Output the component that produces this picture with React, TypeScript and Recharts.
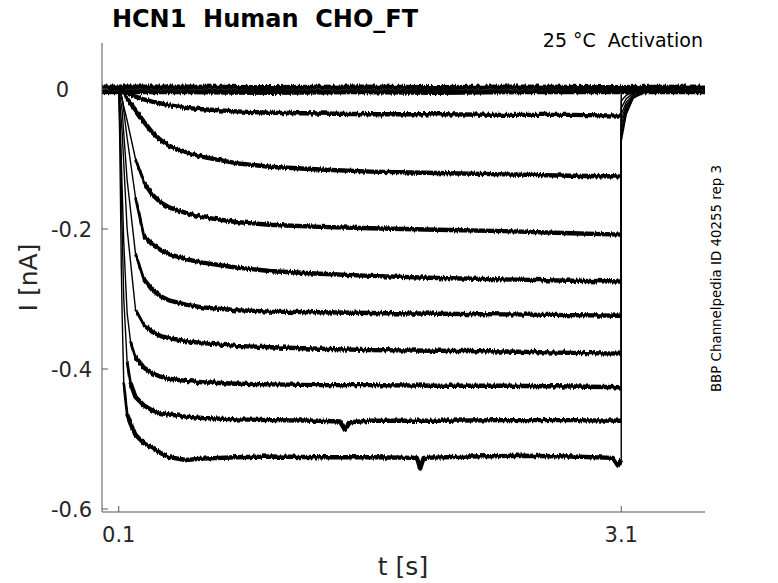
import React from 'react';
import { LineChart, Line, XAxis, YAxis } from 'recharts';

type Pt = [number, number];

// axis ticks
const X_TICKS = [0.1, 3.1];
const X_TICK_LABELS = ['0.1', '3.1'];
const Y_TICKS = [-0.6, -0.4, -0.2, 0];
const Y_TICK_LABELS = ['-0.6', '-0.4', '-0.2', '0'];

// current traces, [t (s), I (nA)]
const traceZeroA: Pt[] = [[0, 0.003], [0.5, 0.003], [1.0, 0.002], [1.5, 0.003], [2.0, 0.002], [2.5, 0.003], [3.0, 0.002], [3.6, 0.003]];
const traceZeroB: Pt[] = [[0, -0.004], [0.5, -0.004], [1.0, -0.005], [1.5, -0.004], [2.0, -0.005], [2.5, -0.004], [3.0, -0.004], [3.6, -0.004]];
const traceB: Pt[] = [[0, 0], [0.1, 0], [0.15, -0.006], [0.2, -0.011], [0.25, -0.015], [0.3, -0.018], [0.4, -0.023], [0.5, -0.027], [0.6, -0.029], [0.8, -0.032], [1.0, -0.034], [1.3, -0.035], [1.6, -0.036], [2.0, -0.036], [2.4, -0.037], [2.8, -0.037], [3.1, -0.038], [3.1, -0.006], [3.14, -0.002], [3.25, 0], [3.6, 0]];
const traceC: Pt[] = [[0, 0], [0.1, 0], [0.12, -0.003], [0.15, -0.014], [0.2, -0.03], [0.25, -0.047], [0.3, -0.062], [0.35, -0.073], [0.4, -0.081], [0.5, -0.09], [0.6, -0.097], [0.8, -0.106], [1.0, -0.111], [1.3, -0.115], [1.6, -0.118], [2.0, -0.12], [2.4, -0.122], [2.8, -0.124], [3.1, -0.125], [3.1, -0.017], [3.13, -0.009], [3.17, -0.004], [3.25, -0.001], [3.6, 0]];
const traceD: Pt[] = [[0, 0], [0.1, 0], [0.12, -0.015], [0.15, -0.045], [0.2, -0.1], [0.25, -0.133], [0.3, -0.151], [0.35, -0.162], [0.4, -0.169], [0.5, -0.177], [0.6, -0.183], [0.8, -0.19], [1.0, -0.194], [1.3, -0.197], [1.6, -0.199], [2.0, -0.201], [2.4, -0.203], [2.8, -0.206], [3.1, -0.208], [3.1, -0.027], [3.13, -0.014], [3.17, -0.006], [3.25, -0.002], [3.6, 0]];
const traceE: Pt[] = [[0, 0], [0.1, 0], [0.12, -0.012], [0.15, -0.07], [0.2, -0.155], [0.25, -0.21], [0.3, -0.222], [0.35, -0.23], [0.4, -0.236], [0.5, -0.243], [0.6, -0.248], [0.8, -0.255], [1.0, -0.26], [1.3, -0.264], [1.6, -0.267], [2.0, -0.27], [2.4, -0.272], [2.8, -0.274], [3.1, -0.275], [3.1, -0.036], [3.13, -0.019], [3.17, -0.008], [3.25, -0.002], [3.6, 0]];
const traceF: Pt[] = [[0, 0], [0.1, 0], [0.12, -0.03], [0.15, -0.13], [0.2, -0.235], [0.25, -0.272], [0.3, -0.287], [0.35, -0.296], [0.4, -0.302], [0.5, -0.308], [0.6, -0.312], [0.8, -0.316], [1.0, -0.318], [1.3, -0.319], [1.6, -0.32], [2.0, -0.321], [2.4, -0.322], [2.8, -0.323], [3.1, -0.324], [3.1, -0.044], [3.13, -0.023], [3.17, -0.01], [3.25, -0.003], [3.6, 0]];
const traceG: Pt[] = [[0, 0], [0.1, 0], [0.12, -0.06], [0.15, -0.2], [0.2, -0.315], [0.25, -0.337], [0.3, -0.347], [0.35, -0.353], [0.4, -0.356], [0.5, -0.36], [0.6, -0.363], [0.8, -0.367], [1.0, -0.369], [1.3, -0.371], [1.6, -0.373], [2.0, -0.374], [2.4, -0.375], [2.8, -0.377], [3.1, -0.378], [3.1, -0.052], [3.13, -0.026], [3.17, -0.011], [3.25, -0.003], [3.6, 0]];
const traceH: Pt[] = [[0, 0], [0.1, 0], [0.11, -0.06], [0.12, -0.14], [0.13, -0.22], [0.15, -0.32], [0.17, -0.36], [0.2, -0.383], [0.25, -0.398], [0.3, -0.406], [0.35, -0.411], [0.4, -0.414], [0.5, -0.417], [0.6, -0.419], [0.8, -0.421], [1.0, -0.422], [1.3, -0.423], [1.6, -0.423], [2.0, -0.424], [2.4, -0.424], [2.8, -0.425], [3.1, -0.426], [3.1, -0.06], [3.13, -0.03], [3.17, -0.012], [3.25, -0.003], [3.6, 0]];
const traceI: Pt[] = [[0, 0], [0.1, 0], [0.11, -0.08], [0.12, -0.2], [0.13, -0.3], [0.15, -0.39], [0.17, -0.42], [0.2, -0.44], [0.25, -0.452], [0.3, -0.459], [0.35, -0.463], [0.4, -0.465], [0.5, -0.468], [0.6, -0.47], [0.8, -0.472], [1.0, -0.473], [1.3, -0.474], [1.42, -0.475], [1.45, -0.487], [1.48, -0.476], [1.6, -0.474], [2.0, -0.474], [2.4, -0.473], [2.8, -0.473], [3.1, -0.474], [3.1, -0.068], [3.13, -0.033], [3.17, -0.013], [3.25, -0.004], [3.6, 0]];
const traceJ: Pt[] = [[0, 0], [0.1, 0], [0.105, -0.06], [0.11, -0.15], [0.115, -0.25], [0.12, -0.32], [0.13, -0.42], [0.15, -0.465], [0.17, -0.478], [0.2, -0.494], [0.25, -0.506], [0.3, -0.513], [0.35, -0.52], [0.4, -0.526], [0.5, -0.53], [0.6, -0.528], [0.8, -0.526], [1.0, -0.525], [1.3, -0.526], [1.6, -0.526], [1.88, -0.527], [1.9, -0.542], [1.92, -0.527], [2.2, -0.525], [2.5, -0.524], [2.8, -0.525], [3.05, -0.527], [3.08, -0.538], [3.1, -0.53], [3.1, -0.075], [3.13, -0.036], [3.17, -0.014], [3.22, -0.004], [3.3, 0], [3.6, 0]];

const STEP_TRACES: Pt[][] = [traceB, traceC, traceD, traceE, traceF, traceG, traceH, traceI, traceJ];
const ZERO_TRACES: Pt[][] = [traceZeroA, traceZeroB];

// style: time from which each step trace is drawn as a noisy band (medium, then full width)
const MID_START = [0.1, 0.12, 0.17, 0.2, 0.2, 0.18, 0.16, 0.15, 0.13];
const BAND_START = [0.1, 0.15, 0.25, 0.25, 0.25, 0.22, 0.2, 0.17, 0.15];
const STEP_END = 3.1;

const FONT = 'DejaVu Sans';
const TXT = '#262626';
const AXIS = '#555555';

const rows = (pts: Pt[]) => pts.map(([t, i]) => ({ t, i }));

const bandRows = (pts: Pt[], start: number) => {
  const idx = pts.findIndex(([t]) => t >= STEP_END);
  return rows(pts.slice(0, idx + 1).filter(([t]) => t >= start));
};

const findIdx = (arr: number[], v: number) => arr.findIndex((a) => Math.abs(a - v) < 1e-9);

const YTick = (props: any) => {
  const { x, y, payload } = props;
  const v = Number(payload.value);
  const label = Y_TICK_LABELS[findIdx(Y_TICKS, v)];
  const endX = Math.abs(v) < 1e-9 ? x - 33 : x - 10;
  return (
    <g>
      <line x1={x} x2={x + 6} y1={y} y2={y} stroke={AXIS} strokeWidth={1} />
      <text x={endX} y={y} dy="0.36em" textAnchor="end" fontSize={21} fill={TXT} fontFamily={FONT}>
        {label}
      </text>
    </g>
  );
};

const XTick = (props: any) => {
  const { x, y, payload } = props;
  const v = Number(payload.value);
  const label = X_TICK_LABELS[findIdx(X_TICKS, v)];
  return (
    <g>
      <line x1={x} x2={x} y1={y} y2={y - 6} stroke={AXIS} strokeWidth={1} />
      <text x={x} y={y + 30} textAnchor="middle" fontSize={21} fill={TXT} fontFamily={FONT}>
        {label}
      </text>
    </g>
  );
};

const lineBase = {
  dataKey: 'i',
  type: 'linear' as const,
  stroke: '#000',
  dot: false,
  activeDot: false,
  isAnimationActive: false,
};

export default function App() {
  return (
    <div style={{ position: 'absolute', left: 0, top: 0, width: 778, height: 583, background: '#fff' }}>
      <svg width={0} height={0} style={{ position: 'absolute' }}>
        <defs>
          <filter id="jitter" filterUnits="userSpaceOnUse" x={0} y={0} width={778} height={583}>
            <feTurbulence type="fractalNoise" baseFrequency="0.7 0.03" numOctaves={1} seed={3} result="turb" />
            <feColorMatrix
              in="turb"
              type="matrix"
              values="0 0 0 0 0.5  0 1 0 0 0  0 0 0 0 0  0 0 0 0 1"
              result="map"
            />
            <feDisplacementMap in="SourceGraphic" in2="map" scale={5} xChannelSelector="R" yChannelSelector="G" />
          </filter>
        </defs>
      </svg>
      <LineChart width={778} height={583} margin={{ top: 43, right: 73, bottom: 31, left: 42 }}>
        <XAxis
          type="number"
          dataKey="t"
          domain={[0, 3.6]}
          ticks={X_TICKS}
          allowDataOverflow
          height={40}
          tickSize={0}
          tickMargin={0}
          tickLine={false}
          axisLine={{ stroke: AXIS, strokeWidth: 1 }}
          tick={<XTick />}
          interval={0}
        />
        <YAxis
          type="number"
          domain={[-0.6043, 0.0657]}
          ticks={Y_TICKS}
          allowDataOverflow
          width={60}
          tickSize={0}
          tickMargin={0}
          tickLine={false}
          axisLine={{ stroke: AXIS, strokeWidth: 1 }}
          tick={<YTick />}
          interval={0}
        />
        {STEP_TRACES.map((pts, k) => (
          <Line key={'thin' + k} {...lineBase} data={rows(pts)} strokeWidth={1.4} />
        ))}
        {STEP_TRACES.map((pts, k) => (
          <Line
            key={'mid' + k}
            {...lineBase}
            data={bandRows(pts, MID_START[k])}
            strokeWidth={2.8}
            strokeLinejoin="round"
            filter="url(#jitter)"
          />
        ))}
        {STEP_TRACES.map((pts, k) => (
          <Line
            key={'band' + k}
            {...lineBase}
            data={bandRows(pts, BAND_START[k])}
            strokeWidth={4.4}
            strokeLinejoin="round"
            filter="url(#jitter)"
          />
        ))}
        {ZERO_TRACES.map((pts, k) => (
          <Line key={'zero' + k} {...lineBase} data={rows(pts)} strokeWidth={5} filter="url(#jitter)" />
        ))}
      </LineChart>
      <svg
        width={778}
        height={583}
        style={{ position: 'absolute', left: 0, top: 0, pointerEvents: 'none' }}
        fontFamily={FONT}
      >
        <text x={265} y={27} textAnchor="middle" fontSize={24} fontWeight="bold" fill="#000" style={{ whiteSpace: 'pre' }}>
          {'HCN1  Human  CHO_FT'}
        </text>
        <text x={703} y={47} textAnchor="end" fontSize={19} fill="#000" style={{ whiteSpace: 'pre' }}>
          {'25 °C  Activation'}
        </text>
        <text x={721} y={278.5} textAnchor="middle" fontSize={13.4} fill="#000" transform="rotate(-90 721 278.5)">
          BBP Channelpedia ID 40255 rep 3
        </text>
        <text x={37} y={277.5} textAnchor="middle" fontSize={25} fill={TXT} transform="rotate(-90 37 277.5)">
          I [nA]
        </text>
        <text x={403} y={575} textAnchor="middle" fontSize={25} fill={TXT}>
          t [s]
        </text>
      </svg>
    </div>
  );
}
